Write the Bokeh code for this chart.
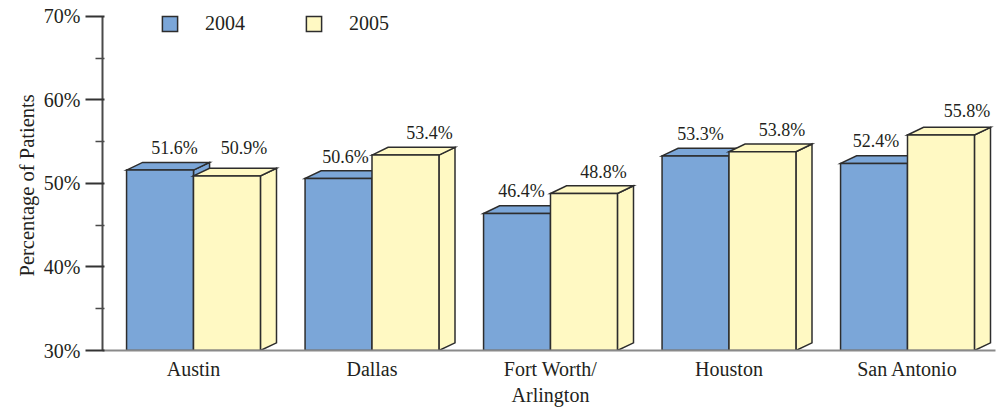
from bokeh.plotting import figure
from bokeh.models import (ColumnDataSource, FixedTicker, Legend, LegendItem,
                          Range1d, Title)
from bokeh.core.properties import value
from bokeh.embed import file_html
from bokeh.resources import INLINE

# ---------------- data ----------------
cities = ["Austin", "Dallas", "Fort Worth/\nArlington", "Houston", "San Antonio"]
years = ["2004", "2005"]
pct_2004 = [51.6, 50.6, 46.4, 53.3, 52.4]
pct_2005 = [50.9, 53.4, 48.8, 53.8, 55.8]
y_ticks = [30, 40, 50, 60, 70]
y_tick_labels = ["30%", "40%", "50%", "60%", "70%"]
y_minor_ticks = [35, 45, 55, 65]
y_title = "Percentage of Patients"

# ---------------- style ----------------
FONT = "Liberation Serif"
BLUE = "#7BA6D8"
YELLOW = "#FFF9C3"
EDGE = "#2d2d2d"
TEXT = "#231f20"
W = 0.375        # bar width (category units)
DX = 0.09        # 3-D depth, x (category units)
DY = 0.92        # 3-D depth, y (percentage points)
BASE = 30
PX_PER_UNIT = 8.4
# per-label pixel nudges (layout only)
nudge_x_2004 = [14.5, 7, 4.5, 5, 2]
nudge_x_2005 = [17, 24, 19.5, 19.5, 26]
lift_2004 = [14, 14, 14.5, 14, 14.5]
lift_2005 = [20, 14.5, 13.5, 14, 16]

p = figure(width=997, height=408,
           x_range=Range1d(-0.5098, 4.493), y_range=Range1d(30, 71.905),
           output_backend="svg", toolbar_location=None,
           min_border_left=102, min_border_right=2,
           min_border_top=0, min_border_bottom=56)
p.outline_line_color = None
p.grid.visible = False
p.background_fill_color = "white"
p.border_fill_color = "white"


def draw_series(vals, offset, color, nudge_x, lift):
    n = len(vals)
    left = [i + offset for i in range(n)]
    right = [l + W for l in left]
    side = ColumnDataSource(dict(
        xs=[[r, r + DX, r + DX, r] for r in right],
        ys=[[BASE, BASE + DY, v + DY, v] for v in vals]))
    top = ColumnDataSource(dict(
        xs=[[l, l + DX, r + DX, r] for l, r in zip(left, right)],
        ys=[[v, v + DY, v + DY, v] for v in vals]))
    front = ColumnDataSource(dict(left=left, right=right, top=vals,
                                  bottom=[BASE] * n))
    kw = dict(fill_color=color, line_color=EDGE, line_width=1.5,
              line_join="miter")
    p.patches("xs", "ys", source=side, **kw)
    p.patches("xs", "ys", source=top, **kw)
    r = p.quad(left="left", right="right", top="top", bottom="bottom",
               source=front, **kw)
    labels = ColumnDataSource(dict(
        x=[(l + rr) / 2 for l, rr in zip(left, right)],
        y=[v + DY + lf / PX_PER_UNIT for v, lf in zip(vals, lift)],
        text=[f"{v:.1f}%" for v in vals],
        xo=nudge_x))
    p.text("x", "y", text="text", x_offset="xo", source=labels,
           text_font=value(FONT), text_font_size="18px", text_color=TEXT,
           text_align="center", text_baseline="alphabetic")
    return r


r04 = draw_series(pct_2004, -W, BLUE, nudge_x_2004, lift_2004)
r05 = draw_series(pct_2005, 0.0, YELLOW, nudge_x_2005, lift_2005)

# ---------------- axes ----------------
ya = p.yaxis[0]
ya.bounds = (y_ticks[0], y_ticks[-1])
ya.ticker = FixedTicker(ticks=y_ticks, minor_ticks=y_minor_ticks)
ya.major_label_overrides = {t: l for t, l in zip(y_ticks, y_tick_labels)}
ya.axis_line_color = "#4a4a4a"
ya.axis_line_width = 2
ya.major_tick_line_color = "#333333"
ya.major_tick_line_width = 2
ya.major_tick_out = 17
ya.major_tick_in = 2
ya.minor_tick_line_color = "#4a4a4a"
ya.minor_tick_line_width = 1.5
ya.minor_tick_out = 7
ya.minor_tick_in = 2
ya.major_label_standoff = 5
ya.major_label_text_font = FONT
ya.major_label_text_font_size = "20px"
ya.major_label_text_color = TEXT

# y-axis title, starting 74 px above the baseline (centred on 30–70 %)
p.add_layout(Title(text=y_title, align="left", offset=74, standoff=6,
                   text_font=FONT, text_font_size="20.5px",
                   text_font_style="normal", text_color=TEXT), "left")

xa = p.xaxis[0]
xa.ticker = FixedTicker(ticks=list(range(len(cities))))
xa.major_label_overrides = {i: c for i, c in enumerate(cities)}
xa.axis_line_color = "#8a8a8a"
xa.axis_line_width = 2
xa.major_tick_out = 0
xa.major_tick_in = 0
xa.minor_tick_out = 0
xa.minor_tick_in = 0
xa.major_label_standoff = 7
xa.major_label_text_font = FONT
xa.major_label_text_font_size = "20px"
xa.major_label_text_color = TEXT
xa.major_label_text_line_height = 1.2

# ---------------- legend ----------------
legend = Legend(items=[LegendItem(label=years[0], renderers=[r04]),
                       LegendItem(label=years[1], renderers=[r05])],
                location=(58, 315), orientation="horizontal",
                glyph_width=19, glyph_height=19, label_height=19,
                label_standoff=26, spacing=59, padding=0, margin=0,
                border_line_color=None, background_fill_alpha=0,
                label_text_font=FONT, label_text_font_size="20px",
                label_text_color=TEXT)
p.add_layout(legend)

open("out.html", "w").write(file_html(p, INLINE))
